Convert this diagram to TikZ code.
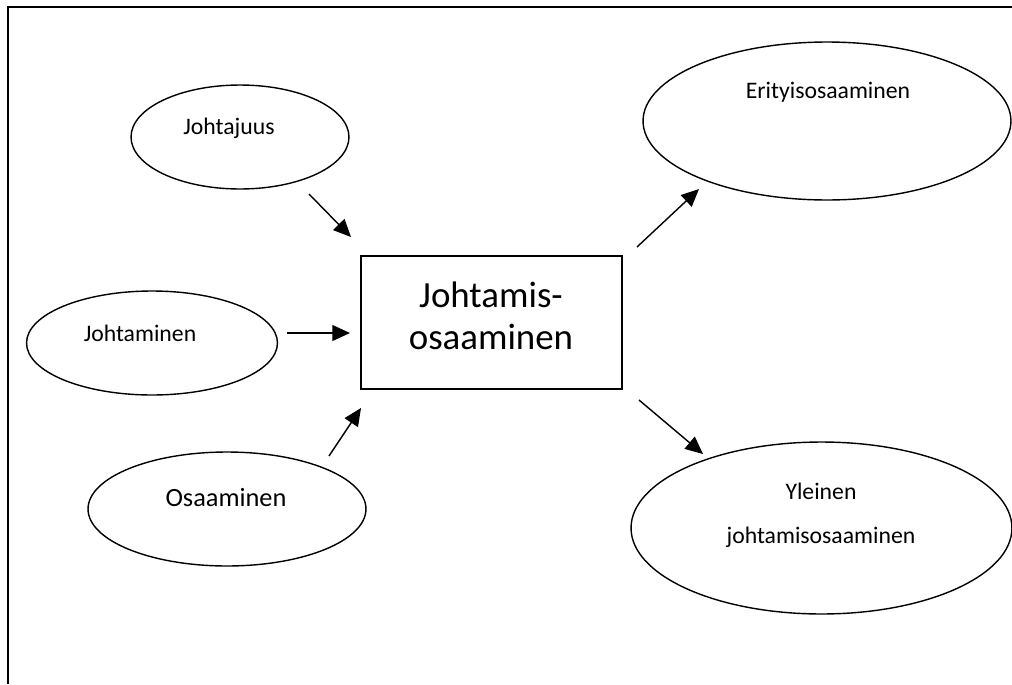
\documentclass[tikz,border=0pt]{standalone}
\usepackage{fontspec}
\setmainfont{Carlito}
\usetikzlibrary{positioning, arrows.meta}
\usetikzlibrary{shapes}

\tikzset{
	oval/.style={ellipse, draw, line width=0.8pt, inner sep=0pt},
	txt/.style={font=\fontsize{13.5}{25}\selectfont, align=center},
	arr/.style={-{Triangle[length=10pt,width=9pt]}, line width=0.8pt},
}

\begin{document}
\begin{tikzpicture}[x=0.02cm, y=-0.02cm]
		\useasboundingbox (0,0) rectangle (1012,684);
		\draw[line width=1.1pt] (8,684) -- (8,7) -- (1012,7);

		% inputs
		\node[oval, minimum width=4.36cm, minimum height=2.08cm] (jt) at (240,137) {};
		\node[txt] (jtT) at (229,128) {Johtajuus};
		\node[oval, minimum width=5.02cm, minimum height=2.08cm] (jm) at (152,343) {};
		\node[txt] (jmT) at (140,333) {Johtaminen};
		\node[oval, minimum width=5.56cm, minimum height=2.28cm] (os) at (227,509) {};
		\node[txt, font=\fontsize{15}{18}\selectfont] (osT) at (226,498) {Osaaminen};

		% centre
		\node[draw, line width=0.8pt, minimum width=5.22cm, minimum height=2.66cm] (box) at (491.5,322.5) {};
		\node[align=center, font=\fontsize{21}{24}\selectfont] (boxT) at (491,316) {Johtamis-\\osaaminen};

		% outputs
		\node[oval, minimum width=7.36cm, minimum height=3.16cm] (er) at (827,121) {};
		\node[txt] (erT) at (828,92) {Erityisosaaminen};
		\node[oval, minimum width=7.62cm, minimum height=3.44cm] (yl) at (821.5,528) {};
		\node[txt] (ylT) at (821,515) {Yleinen\\johtamisosaaminen};

		\coordinate (a1) at (309,194); \coordinate (b1) at (351,237);
		\coordinate (a2) at (287,333); \coordinate (b2) at (350,333);
		\coordinate (a3) at (329,456); \coordinate (b3) at (361,408);
		\coordinate (a4) at (637,247); \coordinate (b4) at (699,189);
		\coordinate (a5) at (639,400); \coordinate (b5) at (703,454);

		\foreach \i in {1,...,5}
			\draw[arr] (a\i) -- (b\i);
	\end{tikzpicture}
\end{document}
